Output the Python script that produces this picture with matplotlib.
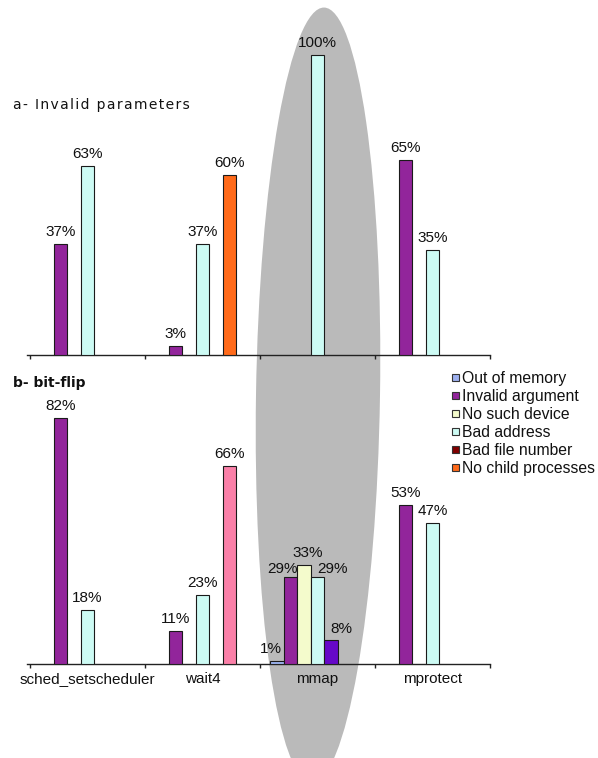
import matplotlib
matplotlib.use('Agg')
import matplotlib.pyplot as plt
from matplotlib.patches import Ellipse, Rectangle
import numpy as np

# Data, in percent
categories = ['sched_setscheduler', 'wait4', 'mmap', 'mprotect']
series = ['Out of memory', 'Invalid argument', 'No such device',
          'Bad address', 'Bad file number', 'No child processes']

top_values = {
    'Out of memory':      [0, 0, 0, 0],
    'Invalid argument':   [37, 3, 0, 65],
    'No such device':     [0, 0, 0, 0],
    'Bad address':        [63, 37, 100, 35],
    'Bad file number':    [0, 0, 0, 0],
    'No child processes': [0, 60, 0, 0],
}
bottom_values = {
    'Out of memory':      [0, 0, 1, 0],
    'Invalid argument':   [82, 11, 29, 53],
    'No such device':     [0, 0, 33, 0],
    'Bad address':        [18, 23, 29, 47],
    'Bad file number':    [0, 0, 8, 0],
    'No child processes': [0, 66, 0, 0],
}

top_colors = ['#9db0f0', '#92259b', '#f4fbcc', '#cdfbf4', '#800000', '#ff6a1a']
bottom_colors = ['#9db4f0', '#92259b', '#f4fbcc', '#cdfbf4', '#6608c8', '#fa80a8']

W, H = 598, 758
fig = plt.figure(figsize=(W / 100, H / 100), dpi=100)

# grey oval behind the mmap column (figure pixel coords)
oval = Ellipse((318, H - 395), 124, 775, angle=-0.9, transform=None,
               facecolor='#bababa', edgecolor='none', zorder=-5)
fig.patches.append(oval)

n_slots = len(series) + 1          # excel leaves room for one more series
w = 1 / 8.5
px_per_unit = 300                  # 100% = 300 px


def make_axes(base_y):
    left, right = 27, 490
    ax = fig.add_axes([left / W, (H - base_y) / H, (right - left) / W, 345 / H])
    ax.set_xlim(-0.026, 4)
    ax.set_ylim(0, 345 / px_per_unit)
    ax.patch.set_visible(False)
    for s in ['top', 'right', 'left']:
        ax.spines[s].set_visible(False)
    ax.spines['bottom'].set_color('#222222')
    ax.spines['bottom'].set_linewidth(1.0)
    ax.set_yticks([])
    ax.set_xticks(np.arange(5))
    ax.set_xticklabels([])
    ax.tick_params(axis='x', which='major', direction='out', length=3,
                   width=1, color='#222222')
    return ax


def draw_panel(ax, values, colors, nudges):
    for j, name in enumerate(series):
        vals = values[name]
        for i, v in enumerate(vals):
            if v == 0:
                continue
            x = i + 0.5 + (j - (n_slots - 1) / 2) * w
            ax.bar(x, v / 100, width=w, color=colors[j], edgecolor='#1a1a1a',
                   linewidth=0.8, zorder=3)
            dx, dy = nudges.get((j, i), (0, 0))
            ax.annotate('%d%%' % v, (x, v / 100), xytext=(dx * 0.72, (8 + dy) * 0.72),
                        textcoords='offset points', ha='center', va='baseline',
                        fontsize=11, family='Liberation Sans', color='#111111',
                        annotation_clip=False, zorder=4)


ax_top = make_axes(355)
draw_panel(ax_top, top_values, top_colors, {})

ax_bot = make_axes(664)
# excel moved the crowded mmap labels sideways
mmap_nudges = {(0, 2): (-6, 0), (1, 2): (-8, -4), (2, 2): (4, 0),
               (3, 2): (15, -4), (4, 2): (10, -1)}
draw_panel(ax_bot, bottom_values, bottom_colors, mmap_nudges)
ax_bot.set_xticks(np.arange(len(categories)) + 0.5, minor=True)
ax_bot.set_xticklabels(categories, minor=True, fontsize=11,
                       family='Liberation Sans', color='#111111')
ax_bot.tick_params(axis='x', which='minor', length=0, pad=6)

# the titles are letter-spaced in the original
hair = '\u200a'
fig.text(13 / W, (H - 109) / H, hair.join('a- Invalid parameters'), fontsize=10,
         family='DejaVu Sans', va='baseline', color='#111111')
fig.text(13 / W, (H - 387) / H, 'b- bit-flip', fontsize=10, weight='bold',
         family='DejaVu Sans', va='baseline', color='#111111')

# legend drawn by hand, excel style
for k, name in enumerate(series):
    cy = 377.5 + 18 * k
    fig.patches.append(Rectangle((452, H - cy - 3.5), 7, 7, transform=None,
                                 facecolor=top_colors[k], edgecolor='#333333',
                                 linewidth=0.8))
    fig.text(462 / W, (H - cy - 5.5) / H, name, fontsize=11.3,
             family='Liberation Sans', va='baseline', color='#111111')

fig.savefig('out.png', dpi=100)
